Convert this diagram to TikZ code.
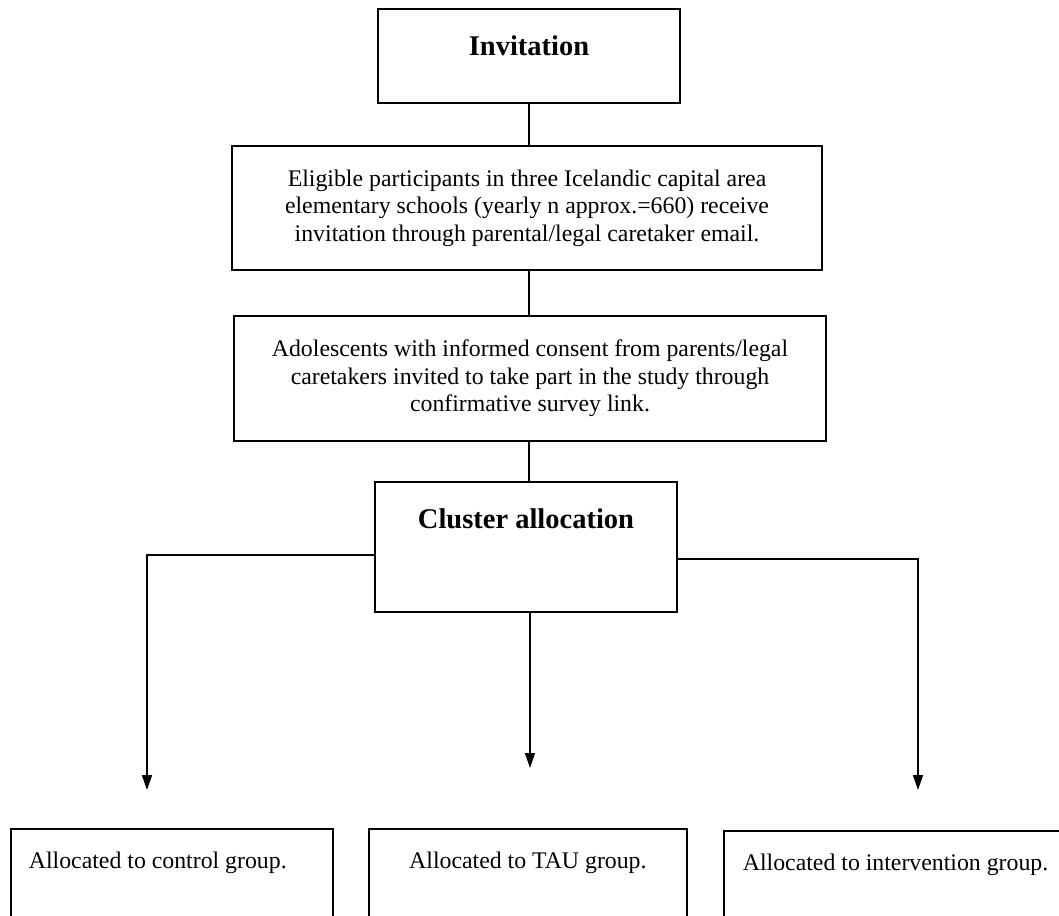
\documentclass[tikz,border=0pt]{standalone}
\usepackage{fontspec}
\setmainfont{Liberation Serif}
\usetikzlibrary{arrows.meta}
\begin{document}
\begin{tikzpicture}[x=1pt,y=-1pt,
  box/.style={draw, line width=1.8pt, inner sep=0pt, font=\fontsize{23.8}{27.5}\selectfont, align=center},
  title/.style={draw, line width=1.8pt, inner sep=0pt, font=\bfseries\fontsize{28.5}{32}\selectfont},
  link/.style={line width=1.6pt},
  arr/.style={link, -{Triangle[width=10pt,length=15pt]}}]
\clip (0,0) rectangle (1059,915);
\node[title, anchor=north, minimum width=302pt, text height=47pt, text depth=47pt] (inv) at (529,8) {Invitation};
\node[box, minimum width=590pt, minimum height=124pt] (elig) at (527,208) {Eligible participants in three Icelandic capital area\\elementary schools (yearly n approx.=660) receive\\invitation through parental/legal caretaker email.};
\node[box, minimum width=592pt, minimum height=125pt] (adol) at (530,378.5) {Adolescents with informed consent from parents/legal\\caretakers invited to take part in the study through\\confirmative survey link.};
\node[title, anchor=north, minimum width=302pt, text height=47pt, text depth=83pt] (clu) at (526,481) {Cluster allocation};
\node[box, anchor=north west, align=flush left, inner xsep=18pt, text width=286pt, text height=40pt, text depth=100pt] (ctrl) at (10,828) {Allocated to control group.};
\node[box, anchor=north west, minimum width=318pt, text height=40pt, text depth=100pt] (tau) at (368,828) {Allocated to TAU group.};
\node[box, anchor=north west, align=flush left, inner xsep=19pt, text width=320pt, text height=40pt, text depth=100pt] (intv) at (723,830) {Allocated to intervention group.};
\coordinate (tl) at (147,790);
\coordinate (tc) at (530,768);
\coordinate (tr) at (918,790);
\draw[link] (inv.south) -- (inv.south |- elig.north);
\draw[link] (inv.south |- elig.south) -- (inv.south |- adol.north);
\draw[link] (inv.south |- adol.south) -- (inv.south |- clu.north);
\draw[arr] ([yshift=-8pt]clu.west) -| (tl);
\draw[arr] ([yshift=-12pt]clu.east) -| (tr);
\draw[arr] (tc |- clu.south) -- (tc);
\end{tikzpicture}
\end{document}
